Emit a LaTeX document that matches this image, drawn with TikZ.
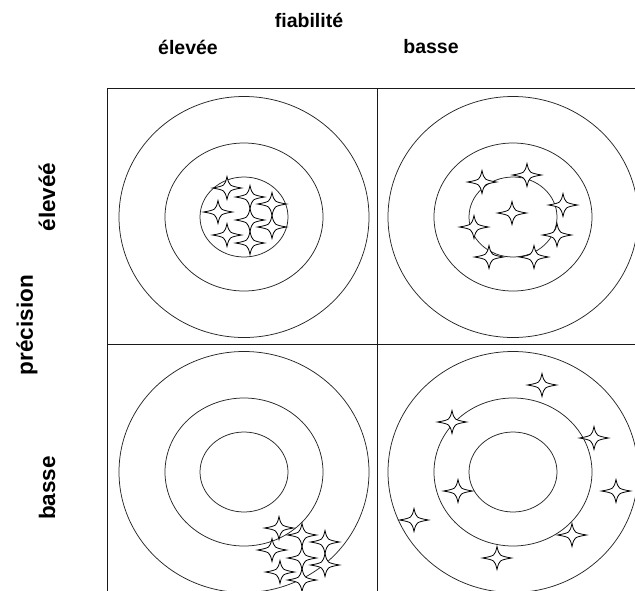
\documentclass[tikz,border=0pt]{standalone}
\usepackage{fontspec}
\setmainfont{Liberation Sans}
\usetikzlibrary{positioning}
\tikzset{
  gridline/.style={line width=1pt, draw=black!90},
  ring/.style={line width=0.75pt, draw=black!85},
  heading/.style={font=\bfseries\fontsize{19.5}{21}\selectfont, inner sep=0pt},
  sidehead/.style={font=\bfseries\fontsize{22.5}{24}\selectfont, inner sep=0pt, rotate=90},
  sparkle/.pic={
    \draw[fill=white, line width=0.8pt]
      (-14.5,0) .. controls (-2.2,-2.2) .. (0,-11.5) .. controls (2.2,-2.2) .. (14.5,0)
      .. controls (2.2,2.2) .. (0,11.5) .. controls (-2.2,2.2) .. cycle;
  }
}

\begin{document}
\begin{tikzpicture}[x=1pt, y=-1pt]
  \useasboundingbox (0,0) rectangle (635,590);

  % headings
  \node[heading] (fiab) at (309,20) {fiabilité};
  \node[heading] (colhigh) at (188,47) {élevée};
  \node[heading] (collow) at (431,47) {basse};
  \node[sidehead] (rowhigh) at (47,197) {élevéé};
  \node[sidehead] (prec) at (27,325) {précision};
  \node[sidehead] (rowlow) at (47,488) {basse};

  % grid
  \draw[gridline] (107,88) -- (650,88);
  \draw[gridline] (107,344) -- (650,344);
  \draw[gridline] (107,88) -- (107,600);
  \draw[gridline] (377,88) -- (377,600);

  % targets
  \foreach \cx/\cy in {244/217, 513/217, 244/472, 513/472} {
    \draw[ring] (\cx,\cy) ellipse [x radius=125, y radius=120.5];
    \draw[ring] (\cx,\cy) ellipse [x radius=79, y radius=74];
    \draw[ring] (\cx,\cy) ellipse [x radius=44, y radius=40];
  }

  % hits: precise and reliable
  \foreach \hx/\hy in {227/188, 250/197, 272/204, 218/212, 250/220, 272/227, 227/235, 250/243}
    \pic at (\hx,\hy) {sparkle};
  % hits: precise, not reliable
  \foreach \hx/\hy in {482/182, 527/175, 563/205, 512/213, 474/227, 557/235, 489/257, 534/257}
    \pic at (\hx,\hy) {sparkle};
  % hits: reliable, not precise
  \foreach \hx/\hy in {279/528, 302/535, 272/550, 325/542, 302/558, 280/572, 325/565, 302/580}
    \pic at (\hx,\hy) {sparkle};
  % hits: neither
  \foreach \hx/\hy in {542/385, 452/422, 594/438, 458/491, 616/491, 414/520, 572/535, 497/558}
    \pic at (\hx,\hy) {sparkle};
\end{tikzpicture}
\end{document}
